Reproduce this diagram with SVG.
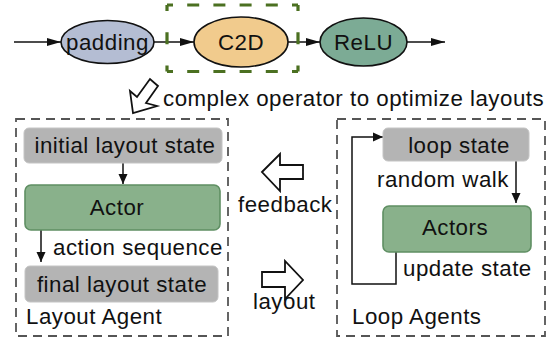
<svg xmlns="http://www.w3.org/2000/svg" width="559" height="345" viewBox="0 0 559 345">
<defs>
<style>
text{font-family:"Liberation Sans",Arial,Helvetica,sans-serif;font-size:22.3px;letter-spacing:0.5px;fill:#111}
.c{text-anchor:middle}
.ell{stroke:#111;stroke-width:1.6}
.gray{fill:#b4b4b4;stroke:#c4c4c4;stroke-width:1}
.green{fill:#89b18b;stroke:#5f8f63;stroke-width:1.6}
.gdash{fill:none;stroke:#4b7021;stroke-width:3.2;stroke-dasharray:12 14.2;stroke-dashoffset:6}
.box{fill:none;stroke:#555;stroke-width:1.8;stroke-dasharray:9 6}
.ln{fill:none;stroke:#111;stroke-width:1.5}
.blk{fill:#fff;stroke:#111;stroke-width:1.8;stroke-linejoin:miter}
</style>
<marker id="ah" viewBox="0 0 14 10" refX="14" refY="5" markerWidth="14" markerHeight="10" markerUnits="userSpaceOnUse" orient="auto">
<path d="M0,1 L14,5 L0,9 z" fill="#111"/>
</marker>
<marker id="as" viewBox="0 0 10 10" refX="10" refY="5" markerWidth="10" markerHeight="10" markerUnits="userSpaceOnUse" orient="auto">
<path d="M0,0.5 L10,5 L0,9.5 z" fill="#111"/>
</marker>
</defs>
<rect width="559" height="345" fill="#fff"/>

<g id="connectors">
<line class="ln" x1="14" y1="42" x2="61" y2="42" marker-end="url(#ah)"/>
<line class="ln" x1="154" y1="42" x2="194" y2="42" marker-end="url(#ah)"/>
<line class="ln" x1="288" y1="42" x2="320" y2="42" marker-end="url(#ah)"/>
<line class="ln" x1="407" y1="42" x2="445" y2="42" marker-end="url(#ah)"/>
<line class="ln" x1="123" y1="163" x2="123" y2="184" marker-end="url(#as)"/>
<line class="ln" x1="41" y1="230" x2="41" y2="262" marker-end="url(#as)"/>
<line class="ln" x1="516" y1="161" x2="516" y2="203" marker-end="url(#as)"/>
<polyline class="ln" points="396,252 396,284 352,284 352,137 383,137" marker-end="url(#as)"/>
</g>

<g id="fusion-group">
<line class="gdash" x1="167" y1="5" x2="298" y2="5"/>
<line class="gdash" x1="167" y1="71.5" x2="298" y2="71.5"/>
<line class="gdash" x1="167" y1="5" x2="167" y2="71.5" style="stroke-dasharray:12 21.25"/>
<line class="gdash" x1="298" y1="5" x2="298" y2="71.5" style="stroke-dasharray:12 21.25"/>
</g>

<g id="padding">
<ellipse class="ell" cx="107.5" cy="42" rx="46.5" ry="21.5" fill="#b4bdd3"/>
<text class="c" x="107.5" y="49.5">padding</text>
</g>
<g id="c2d">
<ellipse class="ell" cx="241" cy="42" rx="47" ry="25" fill="#f1cb8d"/>
<text class="c" x="241" y="49.5">C2D</text>
</g>
<g id="relu">
<ellipse class="ell" cx="363.5" cy="42" rx="43.5" ry="24" fill="#7cab95"/>
<text class="c" x="363.5" y="49.5">ReLU</text>
</g>

<g id="complex-arrow">
<polygon class="blk" points="133,113 130,91 137,97 150,79 158,86 146,103 157,106"/>
<text x="163" y="106">complex operator to optimize layouts</text>
</g>

<g id="layout-agent">
<rect class="box" x="16" y="119" width="212" height="217"/>
<text x="26" y="324">Layout Agent</text>
</g>
<g id="initial-layout-state">
<rect class="gray" x="24" y="128" width="198" height="35" rx="5"/>
<text class="c" x="125" y="153">initial layout state</text>
</g>
<g id="actor">
<rect class="green" x="25" y="185" width="195" height="45" rx="6"/>
<text class="c" x="117" y="215">Actor</text>
</g>
<text x="53" y="255">action sequence</text>
<g id="final-layout-state">
<rect class="gray" x="25" y="266" width="193" height="36" rx="5"/>
<text class="c" x="122" y="292">final layout state</text>
</g>

<g id="loop-agents">
<rect class="box" x="337" y="119" width="208" height="217"/>
<text x="352" y="324">Loop Agents</text>
</g>
<g id="loop-state">
<rect class="gray" x="383" y="128" width="146" height="33" rx="5"/>
<text class="c" x="459" y="153">loop state</text>
</g>
<text x="377" y="187">random walk</text>
<g id="actors">
<rect class="green" x="383" y="206" width="148" height="46" rx="6"/>
<text class="c" x="455" y="235">Actors</text>
</g>
<text x="403" y="276">update state</text>

<g id="feedback">
<polygon class="blk" points="262,172 280,154 280,165 303,165 303,179 280,179 280,191"/>
<text x="238" y="212">feedback</text>
</g>
<g id="layout">
<polygon class="blk" points="262,272 285,272 285,261 303,280 285,299 285,287 262,287"/>
<text x="253" y="309">layout</text>
</g>
</svg>
